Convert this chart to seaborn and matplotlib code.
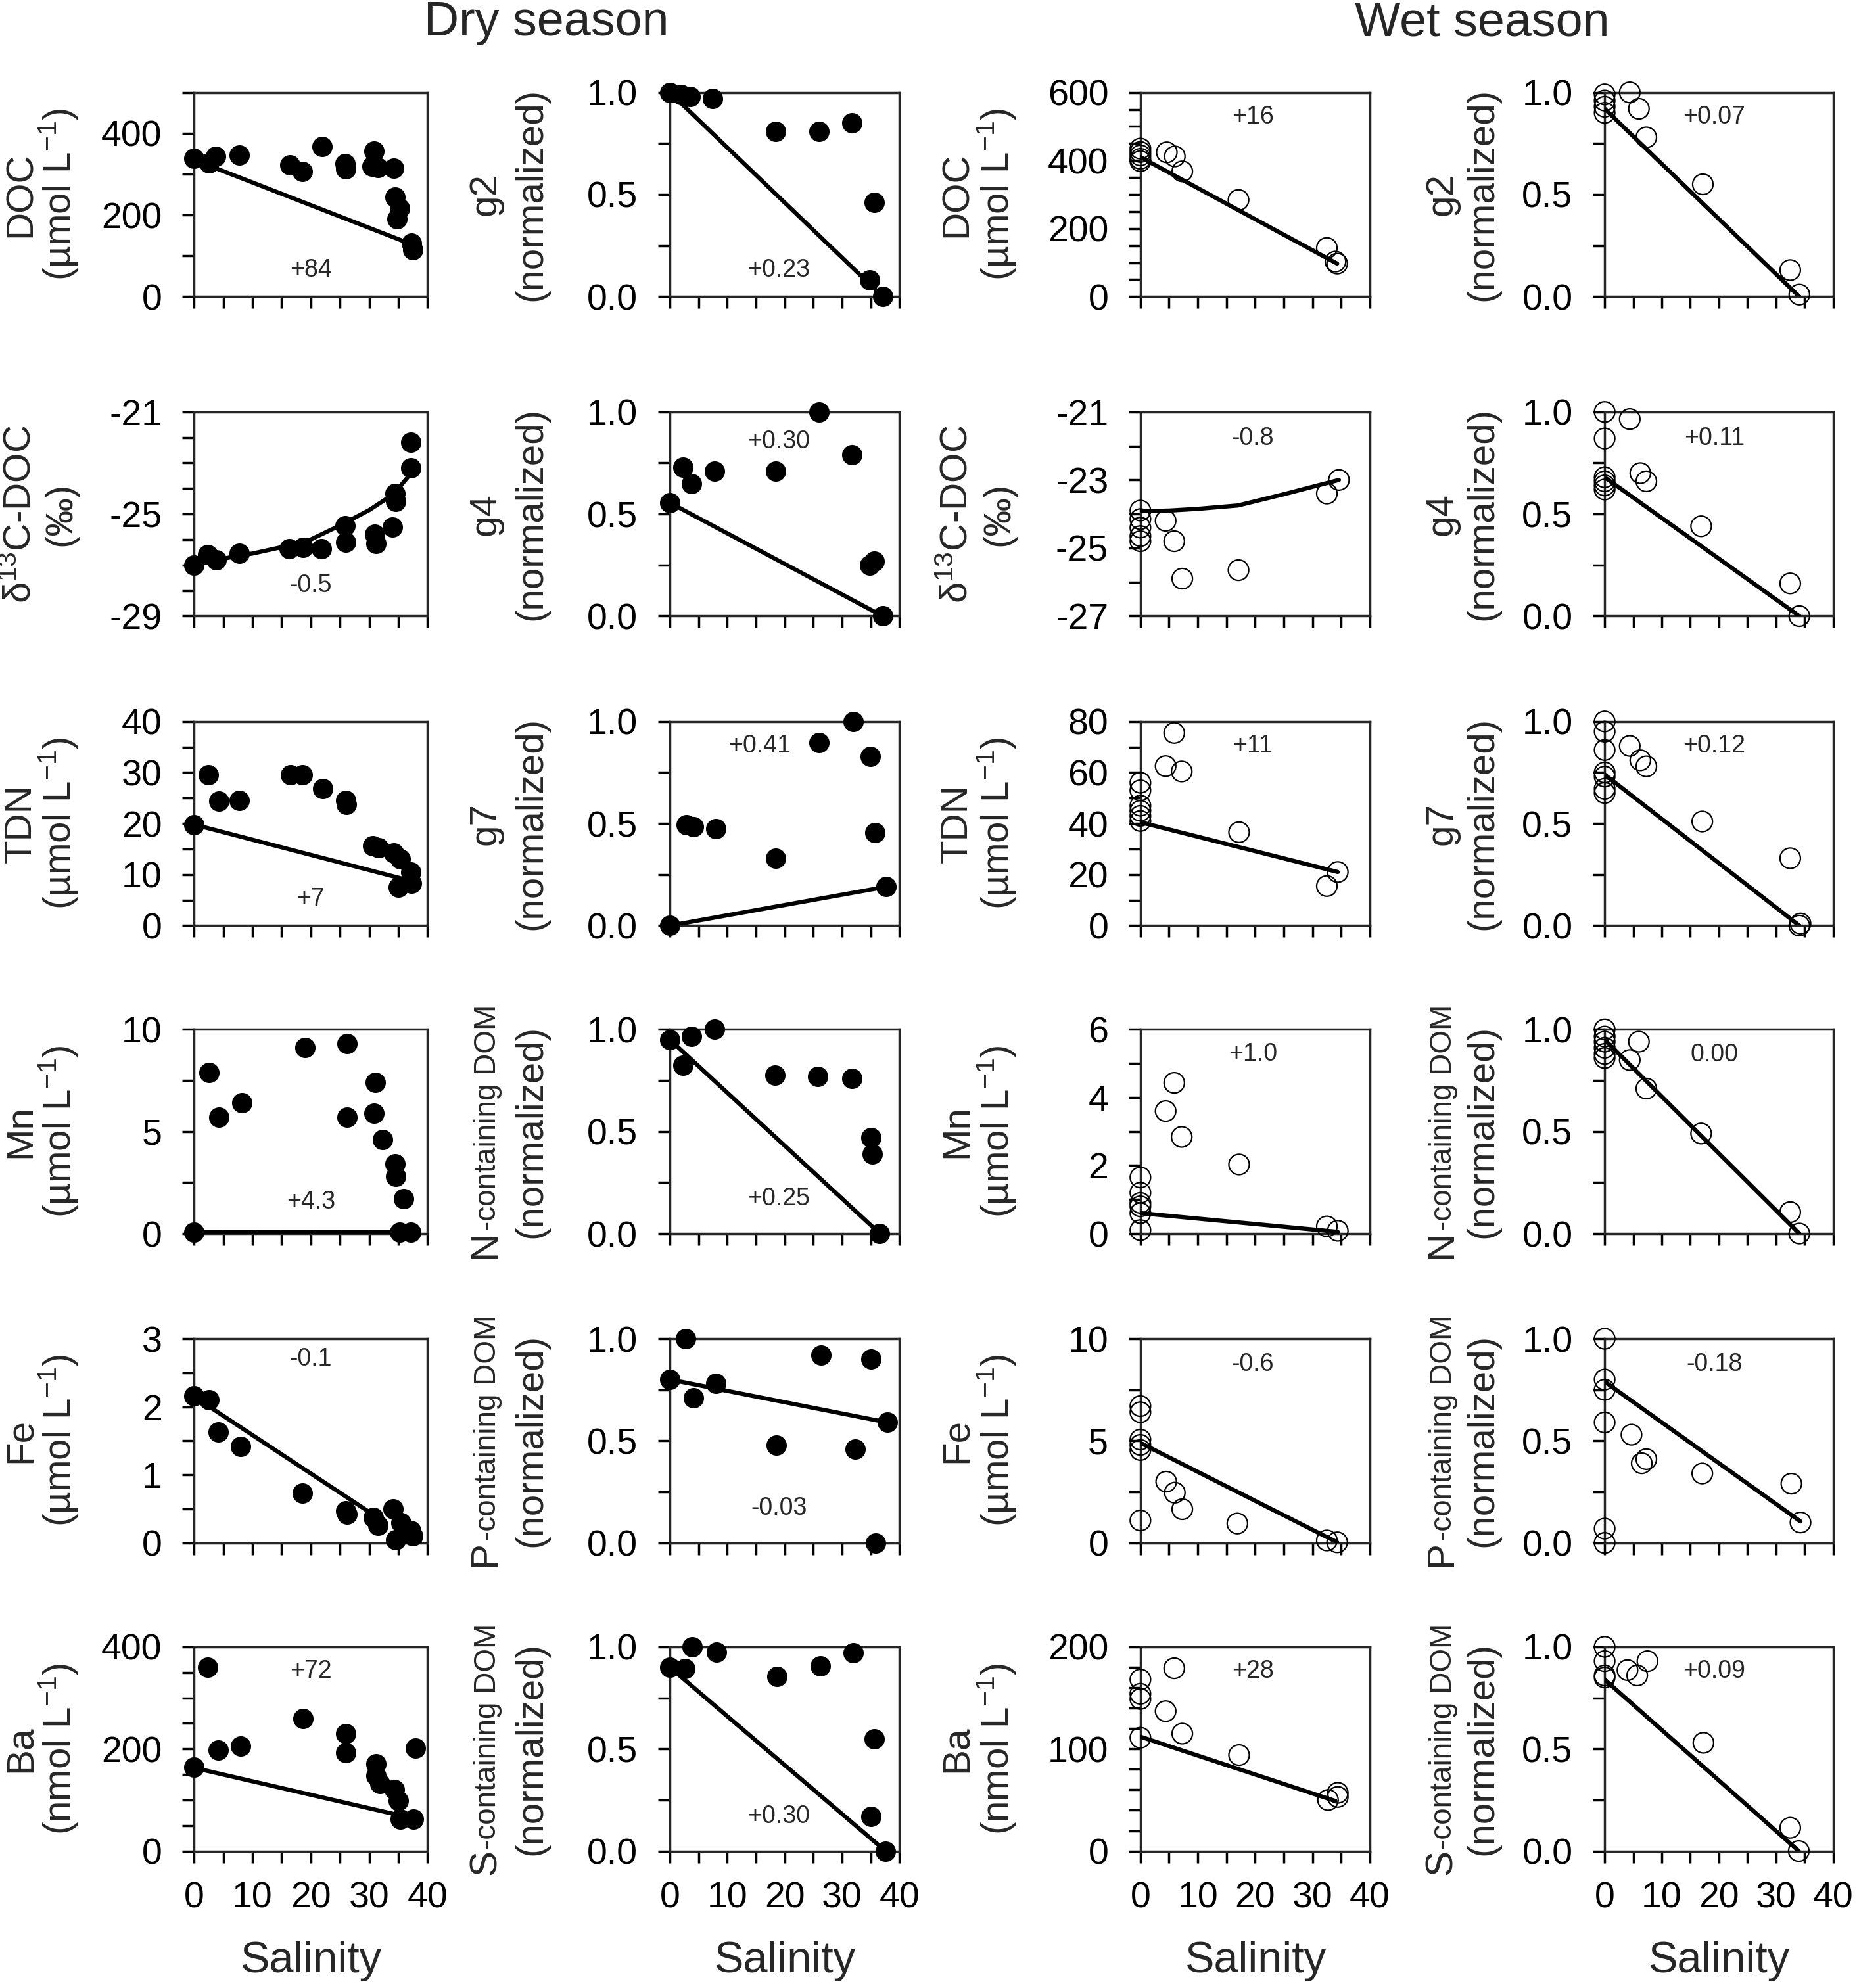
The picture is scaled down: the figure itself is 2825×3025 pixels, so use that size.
import matplotlib
matplotlib.use("Agg")
import matplotlib.pyplot as plt
import seaborn as sns
from matplotlib.ticker import FixedLocator, MultipleLocator, FormatStrFormatter

# ---------------------------------------------------------------
# DATA : salinity vs concentration
# ---------------------------------------------------------------
# Row 1 : DOC / g2
dry_doc_s = [0, 2.6, 3.7, 7.8, 16.4, 18.6, 21.9, 25.9, 26.0, 30.8, 30.5, 31.5, 34.2, 34.5, 34.8, 35.2, 37.3, 37.5]
dry_doc_v = [338, 327, 343, 346, 322, 306, 368, 325, 312, 357, 319, 316, 314, 244, 190, 217, 131, 115]
dry_doc_ls, dry_doc_lv = [0, 37.3], [335, 128]

dry_g2_s = [0, 2.0, 3.5, 7.5, 18.4, 26.0, 31.7, 35.6, 34.8, 37.1]
dry_g2_v = [1.0, 0.99, 0.98, 0.97, 0.81, 0.81, 0.85, 0.46, 0.08, 0.0]
dry_g2_ls, dry_g2_lv = [0, 37.1], [1.0, 0.0]

wet_doc_s = [0, 0, 0, 0, 0, 4.6, 6.0, 7.3, 17.1, 32.5, 34.0, 34.3]
wet_doc_v = [435, 425, 415, 405, 398, 424, 412, 368, 284, 143, 103, 97]
wet_doc_ls, wet_doc_lv = [0, 34.3], [410, 97]

wet_g2_s = [0, 0, 0, 0, 4.4, 6.0, 7.3, 17.2, 32.5, 34.1]
wet_g2_v = [0.99, 0.96, 0.93, 0.90, 1.0, 0.92, 0.78, 0.55, 0.13, 0.01]
wet_g2_ls, wet_g2_lv = [0, 34.1], [0.92, 0.0]

# Row 2 : d13C-DOC / g4
dry_d13c_s = [0, 2.3, 3.8, 7.7, 16.3, 18.7, 21.8, 25.9, 26.0, 30.9, 31.2, 34.0, 34.5, 34.6, 37.2, 37.2]
dry_d13c_v = [-27.0, -26.6, -26.8, -26.55, -26.35, -26.3, -26.35, -25.45, -26.1, -25.8, -26.15, -25.5, -24.2, -24.5, -23.2, -22.2]
dry_d13c_ls = [0, 5, 10, 15, 20, 25, 30, 33, 35, 37.2]
dry_d13c_lv = [-26.95, -26.75, -26.55, -26.3, -26.0, -25.45, -24.85, -24.4, -24.0, -23.4]

dry_g4_s = [0, 2.3, 3.8, 7.75, 18.4, 26.0, 31.7, 34.8, 35.6, 37.1]
dry_g4_v = [0.555, 0.73, 0.65, 0.71, 0.71, 1.0, 0.79, 0.25, 0.27, 0.0]
dry_g4_ls, dry_g4_lv = [0, 37.1], [0.555, 0.0]

wet_d13c_s = [0, 0, 0, 0, 0, 4.4, 5.9, 7.3, 17.1, 32.5, 34.6]
wet_d13c_v = [-23.9, -24.15, -24.4, -24.65, -24.8, -24.2, -24.8, -25.9, -25.65, -23.4, -23.0]
wet_d13c_ls = [0, 5, 10, 17, 25, 34.6]
wet_d13c_lv = [-23.92, -23.9, -23.85, -23.75, -23.42, -23.0]

wet_g4_s = [0, 0, 0, 0, 0, 0, 4.4, 6.25, 7.3, 16.9, 32.5, 34.1]
wet_g4_v = [1.0, 0.87, 0.68, 0.66, 0.64, 0.62, 0.965, 0.70, 0.66, 0.44, 0.16, 0.0]
wet_g4_ls, wet_g4_lv = [0, 34.1], [0.68, 0.0]

# Row 3 : TDN / g7
dry_tdn_s = [0, 2.4, 4.3, 7.7, 16.5, 18.6, 22.0, 26.0, 26.1, 30.6, 31.6, 34.2, 35.3, 37.1, 37.3, 35.0]
dry_tdn_v = [19.8, 29.5, 24.4, 24.5, 29.5, 29.5, 26.9, 24.5, 23.7, 15.7, 15.3, 14.2, 13.0, 10.5, 8.3, 7.5]
dry_tdn_ls, dry_tdn_lv = [0, 37.0], [19.8, 8.8]

dry_g7_s = [0, 2.9, 4.1, 8.0, 18.4, 26.0, 32.0, 34.9, 35.7, 37.7]
dry_g7_v = [0.0, 0.495, 0.485, 0.475, 0.33, 0.895, 1.0, 0.83, 0.455, 0.19]
dry_g7_ls, dry_g7_lv = [0, 37.7], [0.0, 0.19]

wet_tdn_s = [0, 0, 0, 0, 0, 0, 4.4, 5.9, 7.2, 17.2, 32.5, 34.4]
wet_tdn_v = [56, 53, 47, 45, 43, 41, 62.5, 75.5, 60.4, 36.6, 15.5, 21.0]
wet_tdn_ls, wet_tdn_lv = [0, 34.4], [40.5, 21.0]

wet_g7_s = [0, 0, 0, 0, 0, 0, 0, 4.4, 6.25, 7.3, 17.1, 32.5, 34.1, 34.3]
wet_g7_v = [1.0, 0.95, 0.86, 0.75, 0.73, 0.67, 0.65, 0.88, 0.81, 0.78, 0.51, 0.33, 0.0, 0.01]
wet_g7_ls, wet_g7_lv = [0, 34.1], [0.74, 0.0]

# Row 4 : Mn / N-containing DOM
dry_mn_s = [0, 2.6, 4.3, 8.2, 19.0, 26.2, 26.2, 31.1, 30.8, 32.3, 34.4, 34.6, 35.9, 35.2, 37.2]
dry_mn_v = [0.05, 7.9, 5.7, 6.4, 9.1, 9.3, 5.7, 7.4, 5.9, 4.6, 3.4, 2.8, 1.7, 0.05, 0.05]
dry_mn_ls, dry_mn_lv = [0, 37.2], [0.05, 0.05]

dry_ndom_s = [0, 2.3, 3.8, 7.75, 18.3, 25.8, 31.7, 35.1, 35.3, 36.6]
dry_ndom_v = [0.95, 0.825, 0.965, 1.0, 0.776, 0.77, 0.76, 0.47, 0.39, 0.0]
dry_ndom_ls, dry_ndom_lv = [0, 36.6], [0.95, 0.0]

wet_mn_s = [0, 0, 0, 0, 0, 0, 4.4, 5.9, 7.2, 17.2, 32.5, 34.4]
wet_mn_v = [1.65, 1.2, 0.9, 0.8, 0.6, 0.1, 3.6, 4.43, 2.84, 2.03, 0.21, 0.08]
wet_mn_ls, wet_mn_lv = [0, 34.4], [0.6, 0.05]

wet_ndom_s = [0, 0, 0, 0, 0, 0, 4.4, 6.0, 7.3, 16.9, 32.5, 34.1]
wet_ndom_v = [1.0, 0.965, 0.94, 0.91, 0.88, 0.86, 0.85, 0.94, 0.71, 0.49, 0.105, 0.0]
wet_ndom_ls, wet_ndom_lv = [0, 34.1], [0.95, 0.0]

# Row 5 : Fe / P-containing DOM
dry_fe_s = [0, 2.6, 4.1, 8.0, 18.6, 26.0, 26.2, 30.7, 31.5, 34.1, 35.5, 34.6, 37.2, 37.5]
dry_fe_v = [2.16, 2.10, 1.63, 1.42, 0.73, 0.47, 0.42, 0.37, 0.26, 0.50, 0.30, 0.05, 0.18, 0.10]
dry_fe_ls, dry_fe_lv = [0, 31.5], [2.15, 0.37]

dry_pdom_s = [0, 2.8, 4.1, 8.0, 18.6, 26.3, 32.3, 35.1, 35.9, 37.9]
dry_pdom_v = [0.80, 1.0, 0.71, 0.78, 0.48, 0.92, 0.46, 0.90, 0.0, 0.59]
dry_pdom_ls, dry_pdom_lv = [0, 37.9], [0.80, 0.59]

wet_fe_s = [0, 0, 0, 0, 0, 0, 4.5, 6.0, 7.3, 16.9, 32.5, 34.3]
wet_fe_v = [6.7, 6.4, 5.06, 4.8, 4.55, 1.1, 3.0, 2.46, 1.65, 0.95, 0.12, 0.03]
wet_fe_ls, wet_fe_lv = [0, 34.3], [4.9, 0.03]

wet_pdom_s = [0, 0, 0, 0, 0, 0, 4.7, 6.5, 7.3, 17.1, 32.7, 34.3]
wet_pdom_v = [1.0, 0.80, 0.75, 0.59, 0.07, 0.0, 0.53, 0.39, 0.41, 0.34, 0.29, 0.10]
wet_pdom_ls, wet_pdom_lv = [0, 34.3], [0.79, 0.105]

# Row 6 : Ba / S-containing DOM
dry_ba_s = [0, 2.3, 4.1, 8.0, 18.7, 26.0, 26.0, 31.2, 31.2, 31.9, 34.3, 35.0, 35.3, 37.6, 37.9]
dry_ba_v = [164, 360, 198, 205, 260, 230, 192, 171, 148, 132, 121, 98, 62, 62, 201]
dry_ba_ls, dry_ba_lv = [0, 36.0], [163, 68]

dry_sdom_s = [0, 2.6, 3.9, 8.1, 18.7, 26.2, 32.0, 35.6, 35.0, 37.6]
dry_sdom_v = [0.90, 0.895, 1.0, 0.975, 0.855, 0.906, 0.97, 0.55, 0.17, 0.0]
dry_sdom_ls, dry_sdom_lv = [0, 37.6], [0.9, 0.0]

wet_ba_s = [0, 0, 0, 0, 4.4, 5.9, 7.3, 17.2, 32.7, 34.4, 34.4]
wet_ba_v = [168, 154, 149, 111, 137, 179, 115, 94, 50, 57, 53]
wet_ba_ls, wet_ba_lv = [0, 34.0], [112, 49]

wet_sdom_s = [0, 0, 0, 0, 4.0, 5.7, 7.5, 17.3, 32.5, 34.0]
wet_sdom_v = [1.0, 0.93, 0.86, 0.85, 0.886, 0.86, 0.93, 0.53, 0.114, 0.0]
wet_sdom_ls, wet_sdom_lv = [0, 34.0], [0.84, 0.0]

# numbers written inside each panel
notes = [["+84", "+0.23", "+16", "+0.07"],
         ["-0.5", "+0.30", "-0.8", "+0.11"],
         ["+7", "+0.41", "+11", "+0.12"],
         ["+4.3", "+0.25", "+1.0", "0.00"],
         ["-0.1", "-0.03", "-0.6", "-0.18"],
         ["+72", "+0.30", "+28", "+0.09"]]

# axis ticks (labelled majors)
norm_ticks = [0.0, 0.5, 1.0]
x_ticks = [0, 10, 20, 30, 40]

unit = "(µmol L$^{\\mathregular{-1}}$)"
unit_n = "(nmol L$^{\\mathregular{-1}}$)"
d13c = "δ$^{\\mathregular{13}}$C-DOC"

# ---------------------------------------------------------------
# STYLE
# ---------------------------------------------------------------
sns.set_style("ticks")
NARROW = ['Liberation Sans Narrow', 'Liberation Sans', 'DejaVu Sans']
WIDE = ['Liberation Sans', 'DejaVu Sans']
plt.rcParams['font.family'] = NARROW
plt.rcParams['axes.unicode_minus'] = False
plt.rcParams['mathtext.fontset'] = 'custom'
plt.rcParams['mathtext.rm'] = 'Liberation Sans'
plt.rcParams['mathtext.it'] = 'Liberation Sans'

TICK_FS = 40
LAB_FS = 42
SMALL_FS = 33
NOTE_FS = 27
SPINE_W = 2.5
MARK_S = 500

fig = plt.figure(figsize=(28.25, 30.25), dpi=100)

col_left = [0.1045, 0.3607, 0.6141, 0.8641]
col_w = [0.1257, 0.1236, 0.1236, 0.1230]
row_bottom = [0.8508, 0.6901, 0.5344, 0.3795, 0.2239, 0.0689]
row_h = 0.1027

# baseline positions (axes fraction) of the two y-label lines, per column
lab1_x = [-0.70, -0.76, -0.755, -0.67]
lab2_x = [-0.53, -0.56, -0.575, -0.49]
note_x = [0.50, 0.475, 0.49, 0.48]

# panel table: (row, col, x, y, line x, line y, ylim, major ticks, minor step, fmt, label1, label2, note y)
panels = [
    (0, 0, dry_doc_s, dry_doc_v, dry_doc_ls, dry_doc_lv, (0, 500), [0, 200, 400], 100, '%d', "DOC", unit, 0.13),
    (0, 1, dry_g2_s, dry_g2_v, dry_g2_ls, dry_g2_lv, (0, 1), norm_ticks, 0.25, '%.1f', "g2", "(normalized)", 0.13),
    (0, 2, wet_doc_s, wet_doc_v, wet_doc_ls, wet_doc_lv, (0, 600), [0, 200, 400, 600], 50, '%d', "DOC", unit, 0.88),
    (0, 3, wet_g2_s, wet_g2_v, wet_g2_ls, wet_g2_lv, (0, 1), norm_ticks, 0.25, '%.1f', "g2", "(normalized)", 0.88),
    (1, 0, dry_d13c_s, dry_d13c_v, dry_d13c_ls, dry_d13c_lv, (-29, -21), [-29, -25, -21], 1, '%d', d13c, "(‰)", 0.15),
    (1, 1, dry_g4_s, dry_g4_v, dry_g4_ls, dry_g4_lv, (0, 1), norm_ticks, 0.25, '%.1f', "g4", "(normalized)", 0.855),
    (1, 2, wet_d13c_s, wet_d13c_v, wet_d13c_ls, wet_d13c_lv, (-27, -21), [-27, -25, -23, -21], 1, '%d', d13c, "(‰)", 0.87),
    (1, 3, wet_g4_s, wet_g4_v, wet_g4_ls, wet_g4_lv, (0, 1), norm_ticks, 0.25, '%.1f', "g4", "(normalized)", 0.87),
    (2, 0, dry_tdn_s, dry_tdn_v, dry_tdn_ls, dry_tdn_lv, (0, 40), [0, 10, 20, 30, 40], 5, '%d', "TDN", unit, 0.13),
    (2, 1, dry_g7_s, dry_g7_v, dry_g7_ls, dry_g7_lv, (0, 1), norm_ticks, 0.25, '%.1f', "g7", "(normalized)", 0.88),
    (2, 2, wet_tdn_s, wet_tdn_v, wet_tdn_ls, wet_tdn_lv, (0, 80), [0, 20, 40, 60, 80], 10, '%d', "TDN", unit, 0.88),
    (2, 3, wet_g7_s, wet_g7_v, wet_g7_ls, wet_g7_lv, (0, 1), norm_ticks, 0.25, '%.1f', "g7", "(normalized)", 0.88),
    (3, 0, dry_mn_s, dry_mn_v, dry_mn_ls, dry_mn_lv, (0, 10), [0, 5, 10], 2.5, '%d', "Mn", unit, 0.155),
    (3, 1, dry_ndom_s, dry_ndom_v, dry_ndom_ls, dry_ndom_lv, (0, 1), norm_ticks, 0.25, '%.1f',
     ("N", "-containing DOM"), "(normalized)", 0.17),
    (3, 2, wet_mn_s, wet_mn_v, wet_mn_ls, wet_mn_lv, (0, 6), [0, 2, 4, 6], 1, '%d', "Mn", unit, 0.88),
    (3, 3, wet_ndom_s, wet_ndom_v, wet_ndom_ls, wet_ndom_lv, (0, 1), norm_ticks, 0.25, '%.1f',
     ("N", "-containing DOM"), "(normalized)", 0.875),
    (4, 0, dry_fe_s, dry_fe_v, dry_fe_ls, dry_fe_lv, (0, 3), [0, 1, 2, 3], 0.5, '%d', "Fe", unit, 0.9),
    (4, 1, dry_pdom_s, dry_pdom_v, dry_pdom_ls, dry_pdom_lv, (0, 1), norm_ticks, 0.25, '%.1f',
     ("P", "-containing DOM"), "(normalized)", 0.17),
    (4, 2, wet_fe_s, wet_fe_v, wet_fe_ls, wet_fe_lv, (0, 10), [0, 5, 10], 2.5, '%d', "Fe", unit, 0.875),
    (4, 3, wet_pdom_s, wet_pdom_v, wet_pdom_ls, wet_pdom_lv, (0, 1), norm_ticks, 0.25, '%.1f',
     ("P", "-containing DOM"), "(normalized)", 0.875),
    (5, 0, dry_ba_s, dry_ba_v, dry_ba_ls, dry_ba_lv, (0, 400), [0, 200, 400], 50, '%d', "Ba", unit_n, 0.88),
    (5, 1, dry_sdom_s, dry_sdom_v, dry_sdom_ls, dry_sdom_lv, (0, 1), norm_ticks, 0.25, '%.1f',
     ("S", "-containing DOM"), "(normalized)", 0.17),
    (5, 2, wet_ba_s, wet_ba_v, wet_ba_ls, wet_ba_lv, (0, 200), [0, 100, 200], 20, '%d', "Ba", unit_n, 0.88),
    (5, 3, wet_sdom_s, wet_sdom_v, wet_sdom_ls, wet_sdom_lv, (0, 1), norm_ticks, 0.25, '%.1f',
     ("S", "-containing DOM"), "(normalized)", 0.88),
]

renderer = fig.canvas.get_renderer()

for (r, c, xs, ys, lxs, lys, ylim, yt, ymin_step, fmt, lab1, lab2, note_y) in panels:
    ax = fig.add_axes([col_left[c], row_bottom[r], col_w[c], row_h])
    wet = c >= 2

    if wet:
        sns.scatterplot(x=xs, y=ys, ax=ax, s=MARK_S, color='black', facecolor='none',
                        edgecolor='black', linewidth=1.6, clip_on=False, zorder=3, legend=False)
    else:
        sns.scatterplot(x=xs, y=ys, ax=ax, s=MARK_S, color='black', edgecolor='black',
                        linewidth=0, clip_on=False, zorder=3, legend=False)
    sns.lineplot(x=lxs, y=lys, ax=ax, color='black', linewidth=4.6, sort=False,
                 estimator=None, zorder=4, legend=False)

    ax.set_xlim(0, 40)
    ax.set_ylim(*ylim)
    ax.xaxis.set_major_locator(FixedLocator(x_ticks))
    ax.xaxis.set_minor_locator(MultipleLocator(5))
    ax.yaxis.set_major_locator(FixedLocator(yt))
    ax.yaxis.set_minor_locator(MultipleLocator(ymin_step))
    ax.yaxis.set_major_formatter(FormatStrFormatter(fmt))

    for sp in ax.spines.values():
        sp.set_linewidth(SPINE_W)
        sp.set_visible(True)
    ax.tick_params(which='both', direction='out', length=13, width=SPINE_W,
                   top=False, right=False, colors='black')
    ax.tick_params(axis='y', which='major', labelsize=TICK_FS, pad=22)
    ax.tick_params(axis='x', which='major', labelsize=TICK_FS, pad=20)
    ax.set_xlabel("")
    ax.set_ylabel("")
    if r < 5:
        ax.tick_params(axis='x', labelbottom=False)
    else:
        ax.set_xlabel("Salinity", fontsize=48)
        ax.xaxis.set_label_coords(0.5, -0.44)

    # y label, two lines
    ax.text(lab2_x[c], 0.5, lab2, transform=ax.transAxes, rotation=90, rotation_mode='anchor',
            ha='center', va='baseline', fontsize=LAB_FS, family=WIDE)
    if isinstance(lab1, tuple):
        ta = ax.text(lab1_x[c], 0.5, lab1[0], transform=ax.transAxes, rotation=90,
                     rotation_mode='anchor', ha='left', va='baseline', fontsize=LAB_FS, family=WIDE)
        tb = ax.text(lab1_x[c], 0.5, lab1[1], transform=ax.transAxes, rotation=90,
                     rotation_mode='anchor', ha='left', va='baseline', fontsize=SMALL_FS, family=WIDE)
        axh = ax.get_window_extent(renderer).height
        ha_ = ta.get_window_extent(renderer).height / axh
        hb_ = tb.get_window_extent(renderer).height / axh
        y0 = 0.5 - (ha_ + hb_) / 2
        ta.set_position((lab1_x[c], y0))
        tb.set_position((lab1_x[c], y0 + ha_))
    else:
        ax.text(lab1_x[c], 0.5, lab1, transform=ax.transAxes, rotation=90, rotation_mode='anchor',
                ha='center', va='baseline', fontsize=LAB_FS, family=WIDE)

    nx = 0.39 if (r, c) == (2, 1) else note_x[c]
    ax.text(nx, note_y, notes[r][c], transform=ax.transAxes, ha='center', va='center',
            fontsize=NOTE_FS)

fig.text(0.2944, 0.9885, "Dry season", ha='center', va='center', fontsize=53, family=WIDE)
fig.text(0.7980, 0.9885, "Wet season", ha='center', va='center', fontsize=53, family=WIDE)

fig.savefig("out.png", dpi=100)
